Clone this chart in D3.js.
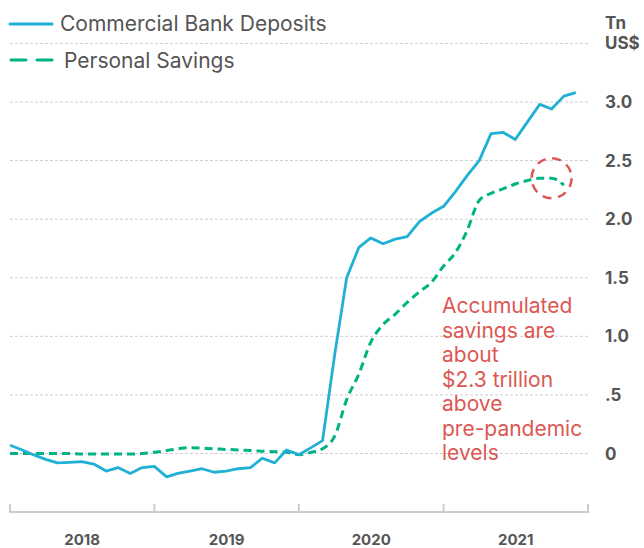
<!DOCTYPE html>
<html>
<head>
<meta charset="utf-8">
<script src="https://cdn.jsdelivr.net/npm/d3@7"></script>
<style>
  html, body { margin: 0; padding: 0; background: #fff; }
  svg { display: block; }
  text { font-family: Inter, "Liberation Sans", sans-serif; }
</style>
</head>
<body>
<svg id="chart" width="644" height="548"></svg>
<script>
// Monthly readings, Jan 2018 onwards (trillions of US$, change since pre-pandemic)
const startMonth = new Date(2018, 0, 1);
const depositsValues = [
  0.07, 0.03, -0.01, -0.05, -0.08, -0.075, -0.07, -0.09, -0.15, -0.12, -0.17, -0.12,
  -0.11, -0.20, -0.17, -0.15, -0.13, -0.16, -0.15, -0.13, -0.12, -0.04, -0.08, 0.03,
  -0.01, 0.05, 0.11, 0.85, 1.50, 1.76, 1.84, 1.79, 1.83, 1.85, 1.98, 2.05,
  2.11, 2.24, 2.37, 2.50, 2.73, 2.74, 2.68, 2.83, 2.98, 2.94, 3.05, 3.08
];
const savingsValues = [
  0.00, 0.00, 0.00, 0.00, 0.00, 0.00, -0.005, -0.005, -0.005, -0.005, -0.005, 0.00,
  0.01, 0.025, 0.04, 0.05, 0.045, 0.04, 0.035, 0.03, 0.025, 0.02, 0.015, 0.01,
  -0.01, 0.01, 0.04, 0.15, 0.46, 0.68, 0.95, 1.10, 1.19, 1.29, 1.38, 1.46,
  1.60, 1.72, 1.90, 2.16, 2.22, 2.26, 2.30, 2.33, 2.35, 2.35, 2.29
];
const yearLabels = ["2018", "2019", "2020", "2021"];
const yTickValues = [0, 0.5, 1.0, 1.5, 2.0, 2.5, 3.0];
const yTickLabels = ["0", ".5", "1.0", "1.5", "2.0", "2.5", "3.0"];
const gridValues = [0, 0.5, 1.0, 1.5, 2.0, 2.5, 3.0, 3.5];
const unitLabel = ["Tn", "US$"];
const seriesNames = ["Commercial Bank Deposits", "Personal Savings"];
const noteLines = ["Accumulated", "savings are", "about", "$2.3 trillion", "above", "pre-pandemic", "levels"];
const highlight = { month: 45, value: 2.35 };

const monthDate = i => d3.timeMonth.offset(startMonth, i);

const blue = "#1fb0d3";
const green = "#00b383";
const red = "#dc5753";
const ink = "#555555";

const svg = d3.select("#chart");

const x = d3.scaleTime()
  .domain([new Date(2018, 0, 1), new Date(2022, 0, 1)])
  .range([10, 588]);
const y = d3.scaleLinear()
  .domain([0, 3.0])
  .range([453.5, 102]);

// Dashed horizontal gridlines
svg.append("g").selectAll("line")
  .data(gridValues)
  .join("line")
  .attr("x1", 10).attr("x2", 588)
  .attr("y1", d => y(d)).attr("y2", d => y(d))
  .attr("stroke", "#cfcfcf")
  .attr("stroke-width", 1)
  .attr("stroke-dasharray", "3,2");

// Right-hand value labels
svg.append("g").selectAll("text")
  .data(yTickValues)
  .join("text")
  .attr("x", 605)
  .attr("y", d => y(d) + 6)
  .attr("fill", ink)
  .attr("font-size", 17)
  .attr("font-weight", 700)
  .text((d, i) => yTickLabels[i]);

svg.append("g").selectAll("text")
  .data(unitLabel)
  .join("text")
  .attr("x", 605)
  .attr("y", (d, i) => 29 + i * 20)
  .attr("fill", ink)
  .attr("font-size", 17)
  .attr("font-weight", 700)
  .text(d => d);

// Bottom time axis: bracket-style ticks with year labels centred between them
const yearStarts = d3.timeYear.range(new Date(2018, 0, 1), new Date(2022, 0, 2));
const axis = svg.append("g");
axis.append("line")
  .attr("x1", x(yearStarts[0])).attr("x2", x(yearStarts[yearStarts.length - 1]))
  .attr("y1", 512).attr("y2", 512)
  .attr("stroke", "#cccccc").attr("stroke-width", 2);
axis.selectAll("line.tick")
  .data(yearStarts)
  .join("line")
  .attr("class", "tick")
  .attr("x1", d => x(d)).attr("x2", d => x(d))
  .attr("y1", 504).attr("y2", 513)
  .attr("stroke", "#cccccc").attr("stroke-width", 2);
axis.selectAll("text")
  .data(yearLabels)
  .join("text")
  .attr("x", (d, i) => (x(yearStarts[i]) + x(yearStarts[i + 1])) / 2)
  .attr("y", 545)
  .attr("text-anchor", "middle")
  .attr("fill", ink)
  .attr("font-size", 15)
  .attr("font-weight", 700)
  .text(d => d);

// Series lines
const line = d3.line()
  .x((d, i) => x(monthDate(i)))
  .y(d => y(d));

svg.append("path")
  .datum(savingsValues)
  .attr("fill", "none")
  .attr("stroke", green)
  .attr("stroke-width", 3)
  .attr("stroke-dasharray", "8,5")
  .attr("d", line.curve(d3.curveMonotoneX));

svg.append("path")
  .datum(depositsValues)
  .attr("fill", "none")
  .attr("stroke", blue)
  .attr("stroke-width", 2.8)
  .attr("stroke-linejoin", "round")
  .attr("d", line.curve(d3.curveLinear));

// Highlight ring around the latest savings level
svg.append("circle")
  .attr("cx", x(monthDate(highlight.month)))
  .attr("cy", y(highlight.value))
  .attr("r", 20)
  .attr("fill", "none")
  .attr("stroke", red)
  .attr("stroke-width", 2.5)
  .attr("stroke-dasharray", "9,6.7");

// Annotation
svg.append("g").selectAll("text")
  .data(noteLines)
  .join("text")
  .attr("x", 442)
  .attr("y", (d, i) => 313 + i * 24.5)
  .attr("fill", red)
  .attr("font-size", 21)
  .text(d => d);

// Legend
const legend = svg.append("g");
legend.append("line")
  .attr("x1", 10).attr("x2", 52).attr("y1", 24).attr("y2", 24)
  .attr("stroke", blue).attr("stroke-width", 3).attr("stroke-linecap", "round");
legend.append("line")
  .attr("x1", 11).attr("x2", 52).attr("y1", 60).attr("y2", 60)
  .attr("stroke", green).attr("stroke-width", 3).attr("stroke-linecap", "round")
  .attr("stroke-dasharray", "15,11");
legend.selectAll("text")
  .data(seriesNames)
  .join("text")
  .attr("x", (d, i) => i === 0 ? 60 : 64)
  .attr("y", (d, i) => i === 0 ? 31 : 68)
  .attr("fill", ink)
  .attr("font-size", 21)
  .text(d => d);
</script>
</body>
</html>
